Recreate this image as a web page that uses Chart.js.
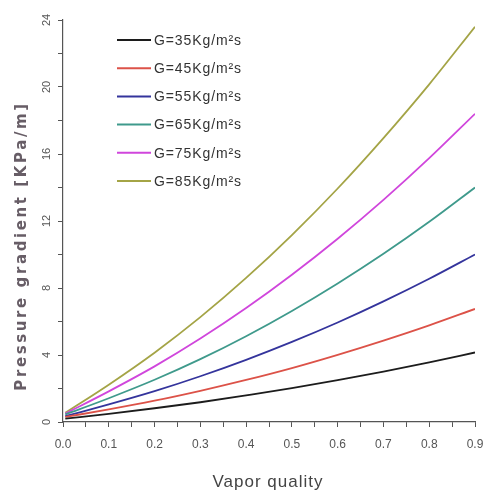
<!DOCTYPE html>
<html>
<head>
<meta charset="utf-8">
<script src="https://cdn.jsdelivr.net/npm/chart.js@4.4.0/dist/chart.umd.min.js"></script>
<style>
  html, body { margin: 0; padding: 0; background: #fff; }
  #wrap { width: 484px; height: 492px; }
</style>
</head>
<body>
<div id="wrap"><canvas id="chart" width="484" height="492"></canvas></div>
<script>
// vapor quality samples
const quality = [0.005, 0.1, 0.2, 0.3, 0.4, 0.5, 0.6, 0.7, 0.8, 0.9];

// pressure gradient, kPa/m, one list per mass flux
const g35 = [0.20, 0.49, 0.82, 1.18, 1.59, 2.02, 2.50, 3.01, 3.56, 4.15];
const g45 = [0.30, 0.75, 1.27, 1.86, 2.51, 3.22, 4.01, 4.86, 5.77, 6.75];
const g55 = [0.35, 1.05, 1.84, 2.73, 3.71, 4.78, 5.94, 7.20, 8.55, 10.0];
const g65 = [0.45, 1.42, 2.52, 3.75, 5.12, 6.63, 8.27, 10.04, 11.95, 14.0];
const g75 = [0.50, 1.83, 3.32, 4.98, 6.80, 8.79, 10.94, 13.26, 15.75, 18.4];
const g85 = [0.55, 2.23, 4.14, 6.26, 8.60, 11.16, 13.94, 16.95, 20.16, 23.6];

const seriesLabels = ["G=35Kg/m²s", "G=45Kg/m²s", "G=55Kg/m²s",
                      "G=65Kg/m²s", "G=75Kg/m²s", "G=85Kg/m²s"];
const seriesData = [g35, g45, g55, g65, g75, g85];
const seriesColors = ["#1c1c1c", "#dc5248", "#34349c", "#3f9a8c", "#d046dc", "#a4a446"];

// labelled y ticks (drawn sideways)
const yTickLabels = [0, 4, 8, 12, 16, 20, 24];

const xTitle = "Vapor quality";
const yTitle = "Pressure gradient [KPa/m]";

const axisColor = "#555";

// legend inside the plot area, top left
const innerLegend = {
  id: "innerLegend",
  afterDraw(chart) {
    const ctx = chart.ctx;
    ctx.save();
    ctx.font = "14px 'Liberation Sans', Arial, sans-serif";
    ctx.letterSpacing = "0.9px";
    ctx.textBaseline = "middle";
    ctx.fillStyle = "#333";
    chart.data.datasets.forEach((ds, i) => {
      const y = 40 + i * 28.2;
      ctx.strokeStyle = ds.borderColor;
      ctx.lineWidth = 2;
      ctx.beginPath();
      ctx.moveTo(117, y);
      ctx.lineTo(151, y);
      ctx.stroke();
      ctx.fillText(ds.label, 154, y + 1);
    });
    ctx.restore();
  }
};

// rotated y tick labels and both axis titles
const axisText = {
  id: "axisText",
  afterDraw(chart) {
    const ctx = chart.ctx;
    const ys = chart.scales.y;
    ctx.save();
    ctx.textAlign = "center";
    ctx.textBaseline = "middle";

    ctx.fillStyle = "#555";
    ctx.font = "11px 'Liberation Sans', Arial, sans-serif";
    yTickLabels.forEach((v) => {
      ctx.save();
      ctx.translate(47, ys.getPixelForValue(v));
      ctx.rotate(-Math.PI / 2);
      ctx.fillText(String(v), 0, 0);
      ctx.restore();
    });

    ctx.fillStyle = "#444";
    ctx.font = "17px 'Liberation Sans', Arial, sans-serif";
    ctx.letterSpacing = "1px";
    ctx.fillText(xTitle, 268, 482);

    ctx.translate(22, 246);
    ctx.rotate(-Math.PI / 2);
    ctx.fillStyle = "#675d66";
    ctx.font = "bold 15px 'DejaVu Sans', sans-serif";
    ctx.letterSpacing = "2.6px";
    ctx.fillText(yTitle, 0, 0);
    ctx.restore();
  }
};

new Chart(document.getElementById("chart"), {
  type: "line",
  data: {
    datasets: seriesData.map((vals, i) => ({
      label: seriesLabels[i],
      data: vals.map((v, j) => ({x: quality[j], y: v})),
      borderColor: seriesColors[i],
      backgroundColor: seriesColors[i],
      borderWidth: 1.8,
      pointRadius: 0,
      cubicInterpolationMode: "monotone",
      fill: false
    }))
  },
  options: {
    responsive: false,
    animation: false,
    layout: {padding: {top: 20, right: 9, left: 0, bottom: 0}},
    plugins: {
      legend: {display: false},
      tooltip: {enabled: false}
    },
    scales: {
      x: {
        type: "linear",
        min: 0,
        max: 0.9,
        afterFit: (s) => {
          s.height = 70;
          // let the last tick label run into the right margin
          s.paddingLeft = 0;
          s.paddingRight = 0;
        },
        border: {display: true, color: axisColor, width: 1.2},
        grid: {drawOnChartArea: false, drawTicks: true, tickLength: 5, color: axisColor},
        ticks: {
          stepSize: 0.05,
          autoSkip: false,
          maxRotation: 0,
          padding: 10,
          color: "#555",
          font: {family: "'Liberation Sans', Arial, sans-serif", size: 12},
          callback: (v) => (Math.round(v * 100) % 10 === 0 ? v.toFixed(1) : "")
        }
      },
      y: {
        type: "linear",
        min: 0,
        max: 24,
        afterFit: (s) => { s.width = 63; },
        border: {display: true, color: axisColor, width: 1.2},
        grid: {drawOnChartArea: false, drawTicks: true, tickLength: 5, color: axisColor},
        ticks: {
          stepSize: 2,
          autoSkip: false,
          callback: () => ""
        }
      }
    }
  },
  plugins: [innerLegend, axisText]
});
</script>
</body>
</html>
